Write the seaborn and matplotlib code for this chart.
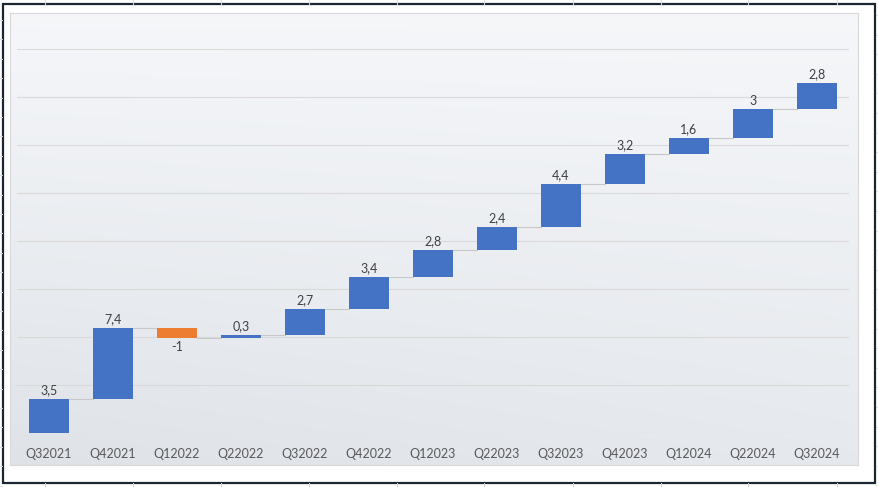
import numpy as np
import pandas as pd
import matplotlib
matplotlib.use("Agg")
import matplotlib.pyplot as plt
import seaborn as sns
from matplotlib.lines import Line2D
from matplotlib.patches import Rectangle

# ---- data ----
quarters = ["Q32021", "Q42021", "Q12022", "Q22022", "Q32022", "Q42022", "Q12023",
            "Q22023", "Q32023", "Q42023", "Q12024", "Q22024", "Q32024"]
changes = [3.5, 7.4, -1, 0.3, 2.7, 3.4, 2.8, 2.4, 4.4, 3.2, 1.6, 3, 2.8]

cum_end = np.cumsum(changes)
cum_start = cum_end - np.array(changes)
bottoms = np.minimum(cum_start, cum_end)
heights = np.abs(changes)

df = pd.DataFrame({"quarter": quarters, "height": heights, "bottom": bottoms,
                   "change": changes})

sns.set_theme(style="white")
plt.rcParams["font.family"] = ["Lato", "DejaVu Sans"]

W, H = 879, 487
fig = plt.figure(figsize=(W / 100, H / 100), dpi=100)
fig.patch.set_facecolor("white")

def fx(px):
    return px / W

def fy(py):
    return 1 - py / H

# spreadsheet cell lines outside the chart
for x in [45, 133, 221, 309, 397, 484, 573, 661, 748, 837]:
    fig.add_artist(Line2D([fx(x), fx(x)], [fy(0), fy(4)], color="#dadada", lw=0.8))
    fig.add_artist(Line2D([fx(x), fx(x)], [fy(483), fy(487)], color="#dadada", lw=0.8))
for k in range(25):
    y = 20 + 19.4 * k
    if y < H:
        fig.add_artist(Line2D([fx(0), fx(2.5)], [fy(y), fy(y)], color="#dadada", lw=0.8))
    y2 = 15 + 19.6 * k
    if y2 < H:
        fig.add_artist(Line2D([fx(876.5), fx(879)], [fy(y2), fy(y2)], color="#dadada", lw=0.8))

# outer dark frame
fig.add_artist(Rectangle((fx(3), fy(483)), fx(875) - fx(3), fy(4) - fy(483),
                         fill=False, edgecolor="#1c2633", lw=1.6))

# textured panel background (smooth gradient)
bg = fig.add_axes([fx(10), fy(465), fx(858) - fx(10), fy(13) - fy(465)])
ny, nx = 200, 400
yy, xx = np.mgrid[0:1:ny * 1j, 0:1:nx * 1j]
top = np.array([0.960, 0.967, 0.977])
botc = np.array([0.875, 0.890, 0.910])
t = np.clip(0.7 * yy + 0.3 * (1 - xx) * yy, 0, 1)[..., None]
img = top * (1 - t) + botc * t
bg.imshow(img, aspect="auto", extent=[0, 1, 0, 1], origin="upper")
bg.set_xticks([]); bg.set_yticks([])
for s in bg.spines.values():
    s.set_color("#d8d8d8"); s.set_linewidth(0.8)

# main axes
ax = fig.add_axes([fx(17), fy(433), fx(849) - fx(17), fy(49) - fy(433)])
ax.set_facecolor("none")

sns.barplot(data=df, x="quarter", y="height", bottom=df["bottom"].values,
            width=0.64, color="#4472C4", saturation=1, ax=ax, zorder=3)
for p, c in zip(ax.patches, changes):
    p.set_facecolor("#4472C4" if c >= 0 else "#ED7D31")
    p.set_edgecolor("none")

ax.set_xlim(-0.5, len(quarters) - 0.5)
ax.set_ylim(0, 40)
ax.set_yticks(np.arange(0, 41, 5))
ax.yaxis.grid(True, color="#d9d9d9", lw=0.8, zorder=0)
ax.xaxis.grid(False)
ax.tick_params(axis="y", left=False, labelleft=False)
ax.tick_params(axis="x", bottom=False, labelsize=9, colors="#595959", pad=5)
for s in ax.spines.values():
    s.set_visible(False)
ax.set_xlabel(""); ax.set_ylabel("")

# connectors
bw = 0.64
for i in range(len(changes) - 1):
    ax.plot([i + bw / 2, i + 1 - bw / 2], [cum_end[i], cum_end[i]],
            color="#c8c8c8", lw=0.8, zorder=2)

# labels
for i, c in enumerate(changes):
    txt = (f"{c:g}").replace(".", ",")
    if c >= 0:
        ax.annotate(txt, (i, cum_end[i]), xytext=(0, 2), textcoords="offset points",
                    ha="center", va="bottom", fontsize=9, color="#404040")
    else:
        ax.annotate(txt, (i, cum_end[i]), xytext=(0, -2), textcoords="offset points",
                    ha="center", va="top", fontsize=9, color="#404040")

fig.savefig("out.png", dpi=100)
